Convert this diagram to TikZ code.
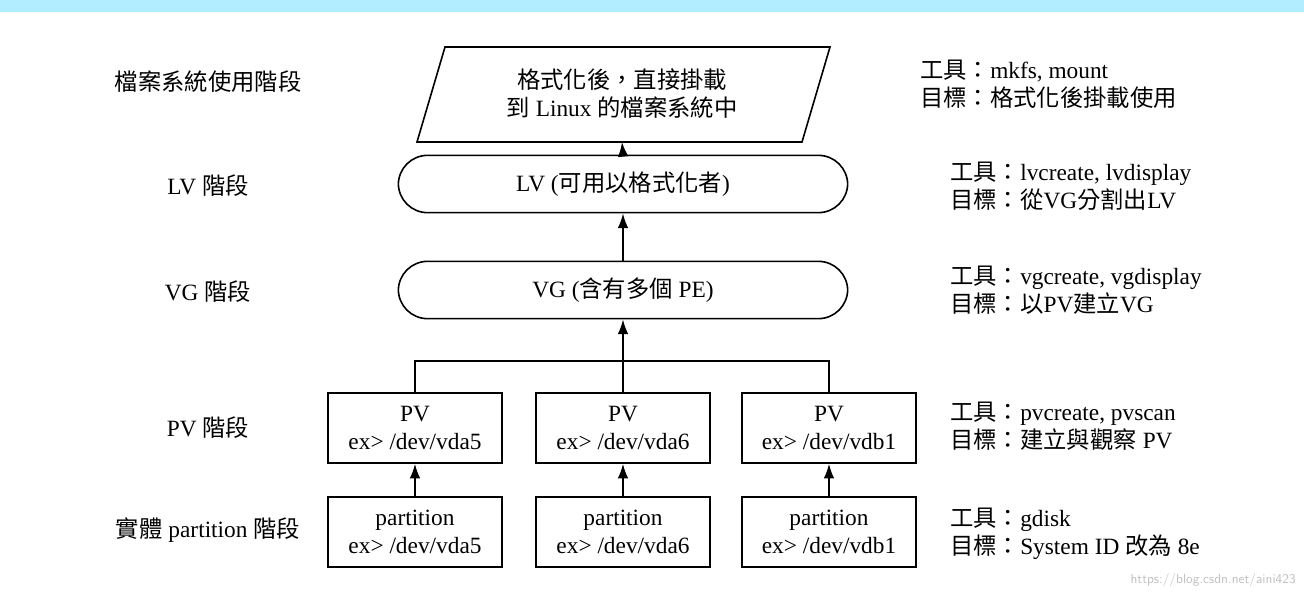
\documentclass[tikz,border=0pt]{standalone}
\usepackage{fontspec}
\setmainfont{Liberation Serif}
\newfontfamily\cjk{Noto Sans CJK TC}
\usetikzlibrary{arrows.meta}
\begin{document}
\begin{tikzpicture}[x=0.75pt,y=-0.75pt,
  txt/.style={font=\fontsize{17.5}{21}\selectfont, align=center, inner sep=0pt},
  lab/.style={txt, anchor=center},
  rt/.style={txt, anchor=west, align=left},
  bx/.style={draw, line width=1.2pt, minimum width=130.5pt, minimum height=52.5pt, txt},
  rbx/.style={draw, line width=1.2pt, rounded corners=22pt, minimum width=337pt, minimum height=43pt, txt},
  arr/.style={line width=1.2pt, -{Latex[length=11pt,width=8pt]}}]
\useasboundingbox (0,0) rectangle (1304,600);
\fill[blue!25!cyan!30] (0,0) rectangle (1304,12);
% left labels
\node[lab] (l1) at (208,82) {\cjk 檔案系統使用階段};
\node[lab] (l2) at (208,186) {LV {\cjk 階段}};
\node[lab] (l3) at (208,292) {VG {\cjk 階段}};
\node[lab] (l4) at (208,428) {PV {\cjk 階段}};
\node[lab] (l5) at (208,530) {{\cjk 實體} partition {\cjk 階段}};
% top parallelogram
\coordinate (p1) at (445,47); \coordinate (p2) at (830,47);
\coordinate (p3) at (802,142); \coordinate (p4) at (417,142);
\draw[line width=1.2pt] (p1) -- (p2) -- (p3) -- (p4) -- cycle;
\node[txt] (fs) at (622,94) {{\cjk 格式化後，直接掛載}\\{\cjk 到} Linux {\cjk 的檔案系統中}};
\coordinate (fsb) at (622,142);
% LV, VG
\node[rbx] (lv) at (623,184) {LV ({\cjk 可用以格式化者})};
\node[rbx] (vg) at (623,290) {VG ({\cjk 含有多個} PE)};
% PV
\node[bx] (pv1) at (415,428) {PV\\ex> /dev/vda5};
\node[bx] (pv2) at (623,428) {PV\\ex> /dev/vda6};
\node[bx] (pv3) at (829,428) {PV\\ex> /dev/vdb1};
\node[bx] (pa1) at (415,532) {partition\\ex> /dev/vda5};
\node[bx] (pa2) at (623,532) {partition\\ex> /dev/vda6};
\node[bx] (pa3) at (829,532) {partition\\ex> /dev/vdb1};
% connectors
\draw[arr] (lv.north) -- (fsb);
\draw[arr] (vg.north) -- (lv.south);
\draw[arr] (pv2.north) -- (vg.south);
\draw[line width=1.2pt] (pv1.north) |- (623,361) -| (pv3.north);
\draw[arr] (pa1.north) -- (pv1.south);
\draw[arr] (pa2.north) -- (pv2.south);
\draw[arr] (pa3.north) -- (pv3.south);
% right texts
\node[rt] (r1) at (920,84) {{\cjk 工具：}mkfs, mount\\{\cjk 目標：格式化後掛載使用}};
\node[rt] (r2) at (950,186) {{\cjk 工具：}lvcreate, lvdisplay\\{\cjk 目標：從}VG{\cjk 分割出}LV};
\node[rt] (r3) at (950,290) {{\cjk 工具：}vgcreate, vgdisplay\\{\cjk 目標：以}PV{\cjk 建立}VG};
\node[rt] (r4) at (950,426) {{\cjk 工具：}pvcreate, pvscan\\{\cjk 目標：建立與觀察} PV};
\node[rt] (r5) at (950,534) {{\cjk 工具：}gdisk\\{\cjk 目標：}System ID {\cjk 改為} 8e};
\node[anchor=east, text=black!25, font=\fontsize{10}{12}\selectfont\sffamily, inner sep=0pt] (wm) at (1296,580) {https://blog.csdn.net/aini423};
\end{tikzpicture}
\end{document}
